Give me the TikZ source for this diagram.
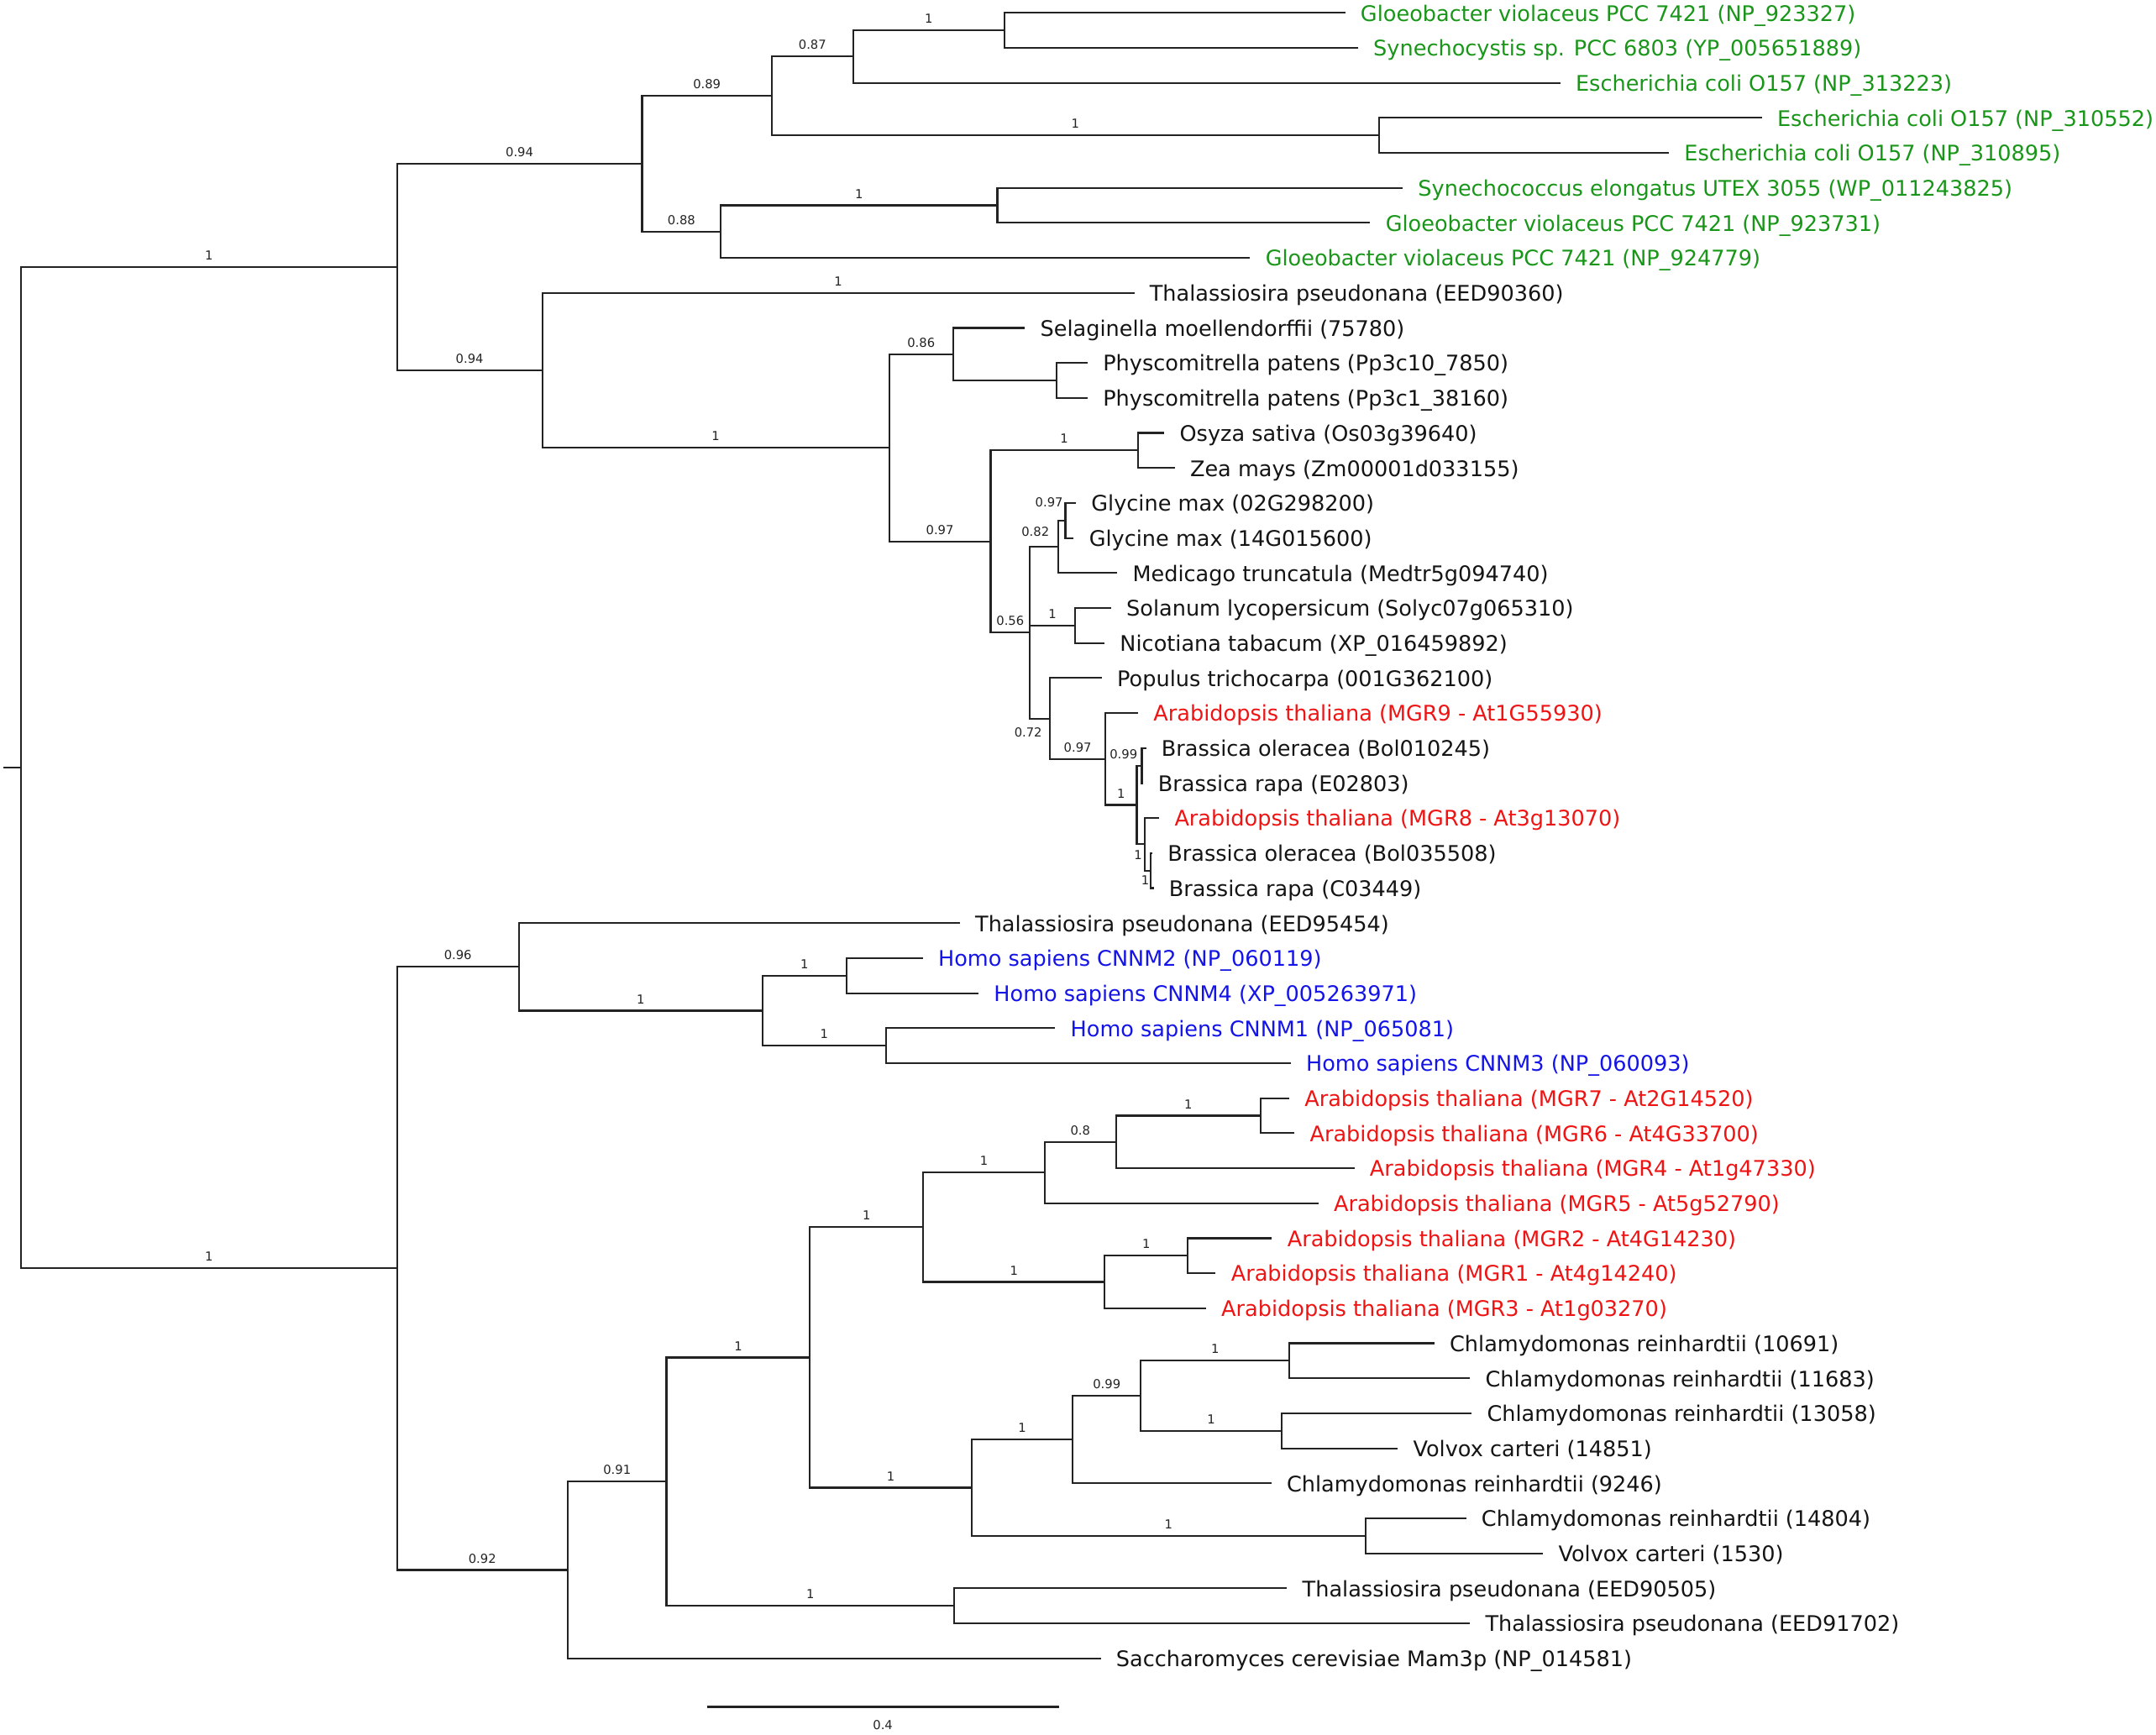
\documentclass[tikz,border=0pt]{standalone}
\usepackage{fontspec}
\setmainfont{DejaVu Sans}
\definecolor{colorbact}  {RGB}{25 ,150,25 }
\definecolor{colorath}   {RGB}{238,20 ,20 }
\definecolor{colorhuman} {RGB}{20 ,20 ,230}
\definecolor{colorbranch}{RGB}{35 ,35 ,35 }
\definecolor{colortext}  {RGB}{20 ,20 ,20 }

\begin{document}
\begin{tikzpicture}[
    x=1pt, y=-25.45pt,
    leaf/.style={anchor=west,inner xsep=11pt,inner ysep=0pt,text height=12pt,text depth=0pt,font={\fontsize{15.6}{15.6}\selectfont},text=colortext},
    bact/.style={leaf,text=colorbact},
    ath/.style={leaf,text=colorath},
    hsa/.style={leaf,text=colorhuman},
    branch/.style={draw=colorbranch,line width=1.3pt},
    supp/.style={font={\fontsize{9}{9}\selectfont},text=colorbranch,inner sep=0pt,text height=6.5pt,text depth=0pt},
    bs/.style={supp,pos=0.75,above=4.5pt},
]

    \useasboundingbox (0,0.6346) rectangle (1567,50.167);

    % leaves
    \node[bact] at (977.7,1) (gloeoA) {Gloeobacter violaceus PCC 7421 (NP\_923327)};
    \node[bact] at (987,2) (synechocystis) {Synechocystis sp. PCC 6803 (YP\_005651889)};
    \node[bact] at (1134,3) (ecoliA) {Escherichia coli O157 (NP\_313223)};
    \node[bact] at (1280.5,4) (ecoliB) {Escherichia coli O157 (NP\_310552)};
    \node[bact] at (1213,5) (ecoliC) {Escherichia coli O157 (NP\_310895)};
    \node[bact] at (1019.5,6) (synechococcus) {Synechococcus elongatus UTEX 3055 (WP\_011243825)};
    \node[bact] at (995.9,7) (gloeoB) {Gloeobacter violaceus PCC 7421 (NP\_923731)};
    \node[bact] at (908.6,8) (gloeoC) {Gloeobacter violaceus PCC 7421 (NP\_924779)};
    \node[leaf] at (824.4,9) (thalA) {Thalassiosira pseudonana (EED90360)};
    \node[leaf] at (744.9,10) (selag) {Selaginella moellendorffii (75780)};
    \node[leaf] at (790.5,11) (physA) {Physcomitrella patens (Pp3c10\_7850)};
    \node[leaf] at (790.5,12) (physB) {Physcomitrella patens (Pp3c1\_38160)};
    \node[leaf] at (846.2,13) (osyza) {Osyza sativa (Os03g39640)};
    \node[leaf] at (853.8,14) (zea) {Zea mays (Zm00001d033155)};
    \node[leaf] at (782,15) (glyA) {Glycine max (02G298200)};
    \node[leaf] at (780.4,16) (glyB) {Glycine max (14G015600)};
    \node[leaf] at (812,17) (medicago) {Medicago truncatula (Medtr5g094740)};
    \node[leaf] at (807.5,18) (solanum) {Solanum lycopersicum (Solyc07g065310)};
    \node[leaf] at (802.8,19) (nicotiana) {Nicotiana tabacum (XP\_016459892)};
    \node[leaf] at (800.8,20) (populus) {Populus trichocarpa (001G362100)};
    \node[ath] at (827.2,21) (athMGR9) {Arabidopsis thaliana (MGR9 - At1G55930)};
    \node[leaf] at (833,22) (braolA) {Brassica oleracea (Bol010245)};
    \node[leaf] at (830.5,23) (brarapA) {Brassica rapa (E02803)};
    \node[ath] at (842.5,24) (athMGR8) {Arabidopsis thaliana (MGR8 - At3g13070)};
    \node[leaf] at (837.5,25) (braolB) {Brassica oleracea (Bol035508)};
    \node[leaf] at (838.5,26) (brarapB) {Brassica rapa (C03449)};
    \node[leaf] at (697.6,27) (thalB) {Thalassiosira pseudonana (EED95454)};
    \node[hsa] at (670.7,28) (cnnm2) {Homo sapiens CNNM2 (NP\_060119)};
    \node[hsa] at (711.2,29) (cnnm4) {Homo sapiens CNNM4 (XP\_005263971)};
    \node[hsa] at (766.9,30) (cnnm1) {Homo sapiens CNNM1 (NP\_065081)};
    \node[hsa] at (938.1,31) (cnnm3) {Homo sapiens CNNM3 (NP\_060093)};
    \node[ath] at (937,32) (mgr7) {Arabidopsis thaliana (MGR7 - At2G14520)};
    \node[ath] at (940.8,33) (mgr6) {Arabidopsis thaliana (MGR6 - At4G33700)};
    \node[ath] at (984.4,34) (mgr4) {Arabidopsis thaliana (MGR4 - At1g47330)};
    \node[ath] at (958.2,35) (mgr5) {Arabidopsis thaliana (MGR5 - At5g52790)};
    \node[ath] at (924.5,36) (mgr2) {Arabidopsis thaliana (MGR2 - At4G14230)};
    \node[ath] at (883.6,37) (mgr1) {Arabidopsis thaliana (MGR1 - At4g14240)};
    \node[ath] at (876.5,38) (mgr3) {Arabidopsis thaliana (MGR3 - At1g03270)};
    \node[leaf] at (1042.5,39) (chlA) {Chlamydomonas reinhardtii (10691)};
    \node[leaf] at (1068.4,40) (chlB) {Chlamydomonas reinhardtii (11683)};
    \node[leaf] at (1069.6,41) (chlC) {Chlamydomonas reinhardtii (13058)};
    \node[leaf] at (1015.9,42) (volA) {Volvox carteri (14851)};
    \node[leaf] at (924,43) (chlD) {Chlamydomonas reinhardtii (9246)};
    \node[leaf] at (1065.6,44) (chlE) {Chlamydomonas reinhardtii (14804)};
    \node[leaf] at (1121.5,45) (volB) {Volvox carteri (1530)};
    \node[leaf] at (935.4,46) (thalC) {Thalassiosira pseudonana (EED90505)};
    \node[leaf] at (1068.4,47) (thalD) {Thalassiosira pseudonana (EED91702)};
    \node[leaf] at (800,48) (sacch) {Saccharomyces cerevisiae Mam3p (NP\_014581)};

    % inner nodes
    \coordinate (rootstub) at (2.4,22.563);
    \coordinate (root) at (15.2,22.563);
    \coordinate (bactplant) at (288.5,8.2627);
    \coordinate (bacteria) at (466.7,5.3125);
    \coordinate (bactA) at (560.9,3.375);
    \coordinate (bactB) at (620.1,2.25);
    \coordinate (gloesyn) at (730,1.5);
    \coordinate (ecoli) at (1002.3,4.5);
    \coordinate (bactC) at (523.9,7.25);
    \coordinate (synglo) at (724.9,6.5);
    \coordinate (plants) at (394.1,11.2129);
    \coordinate (land) at (646.2,13.4258);
    \coordinate (moss) at (692.8,10.75);
    \coordinate (physco) at (767.7,11.5);
    \coordinate (angio) at (720,16.1016);
    \coordinate (monocot) at (827,13.5);
    \coordinate (dicot) at (748.5,18.703);
    \coordinate (legume) at (769.2,16.25);
    \coordinate (glycine) at (774.3,15.5);
    \coordinate (solan) at (781.4,18.5);
    \coordinate (rosid) at (763.1,21.15625);
    \coordinate (brassic) at (803.4,22.3125);
    \coordinate (brassA) at (826.2,23.625);
    \coordinate (brassB) at (829.9,22.5);
    \coordinate (brassC) at (831.8,24.75);
    \coordinate (brassD) at (836.4,25.5);

    \coordinate (animals) at (288.5,36.8633);
    \coordinate (cnnmall) at (377.1,28.25);
    \coordinate (cnnm) at (554.3,29.5);
    \coordinate (cnnmA) at (615.1,28.5);
    \coordinate (cnnmB) at (643.9,30.5);
    \coordinate (algaeall) at (412.6,45.4766);
    \coordinate (greenall) at (484.4,42.953);
    \coordinate (mgrchlamy) at (588.7,39.40625);
    \coordinate (mgr) at (671,35.6875);
    \coordinate (mgrA) at (759.3,34.125);
    \coordinate (mgrB) at (811.1,33.25);
    \coordinate (mgrC) at (916.3,32.5);
    \coordinate (mgrD) at (802.9,37.25);
    \coordinate (mgrE) at (863.4,36.5);
    \coordinate (chlamy) at (706.2,43.125);
    \coordinate (chlamyA) at (779.6,41.75);
    \coordinate (chlamyB) at (829.2,40.5);
    \coordinate (chlamyC) at (937.1,39.5);
    \coordinate (chlamyD) at (931.4,41.5);
    \coordinate (chlamyE) at (992.5,44.5);
    \coordinate (thalass) at (693.5,46.5);

    % branches
    \draw[branch] (rootstub) -- (root);
    \draw[branch] (root) |- node[bs] (sbactplant) {1} (bactplant);
    \draw[branch] (root) |- node[bs] (sanimals) {1} (animals);

    \draw[branch] (bactplant) |- node[bs] (sbacteria) {0.94} (bacteria);
    \draw[branch] (bactplant) |- node[bs] (splants) {0.94} (plants);
    \draw[branch] (bacteria) |- node[bs] (sbactA) {0.89} (bactA);
    \draw[branch] (bacteria) |- node[bs] (sbactC) {0.88} (bactC);
    \draw[branch] (bactA) |- node[bs] (sbactB) {0.87} (bactB);
    \draw[branch] (bactA) |- node[bs] (secoli) {1} (ecoli);
    \draw[branch] (bactB) |- node[bs] (sgloesyn) {1} (gloesyn);
    \draw[branch] (bactB) |- (ecoliA.west);
    \draw[branch] (gloesyn) |- (gloeoA.west);
    \draw[branch] (gloesyn) |- (synechocystis.west);
    \draw[branch] (ecoli) |- (ecoliB.west);
    \draw[branch] (ecoli) |- (ecoliC.west);
    \draw[branch] (bactC) |- node[bs] (ssynglo) {1} (synglo);
    \draw[branch] (bactC) |- (gloeoC.west);
    \draw[branch] (synglo) |- (synechococcus.west);
    \draw[branch] (synglo) |- (gloeoB.west);

    \draw[branch] (plants) |- node[bs] (sthalA) {1} (thalA.west);
    \draw[branch] (plants) |- node[bs] (sland) {1} (land);
    \draw[branch] (land) |- node[bs] (smoss) {0.86} (moss);
    \draw[branch] (land) |- node[bs] (sangio) {0.97} (angio);
    \draw[branch] (moss) |- (selag.west);
    \draw[branch] (moss) |- (physco);
    \draw[branch] (physco) |- (physA.west);
    \draw[branch] (physco) |- (physB.west);
    \draw[branch] (angio) |- node[bs] (smonocot) {1} (monocot);
    \draw[branch] (angio) |- node[bs] (sdicot) {0.56} (dicot);
    \draw[branch] (monocot) |- (osyza.west);
    \draw[branch] (monocot) |- (zea.west);
    \draw[branch] (dicot) |- (legume);
    \draw[branch] (dicot) |- node[bs] (ssolan) {1} (solan);
    \draw[branch] (dicot) |- (rosid);
    \draw[branch] (legume) |- (glycine);
    \draw[branch] (legume) |- (medicago.west);
    \draw[branch] (glycine) |- (glyA.west);
    \draw[branch] (glycine) |- (glyB.west);
    \draw[branch] (solan) |- (solanum.west);
    \draw[branch] (solan) |- (nicotiana.west);
    \draw[branch] (rosid) |- (populus.west);
    \draw[branch] (rosid) |- node[bs] (sbrassic) {0.97} (brassic);
    \draw[branch] (brassic) |- (athMGR9.west);
    \draw[branch] (brassic) |- node[bs] (sbrassA) {1} (brassA);
    \draw[branch] (brassA) |- (brassB);
    \draw[branch] (brassA) |- (brassC);
    \draw[branch] (brassB) |- (braolA.west);
    \draw[branch] (brassB) |- (brarapA.west);
    \draw[branch] (brassC) |- (athMGR8.west);
    \draw[branch] (brassC) |- (brassD);
    \draw[branch] (brassD) |- (braolB.west);
    \draw[branch] (brassD) |- (brarapB.west);

    \node[supp] at (752.5,15.813) (slegume) {0.82};
    \node[supp] at (762.5,14.988) (sglycine) {0.97};
    \node[supp] at (747.3,21.546) (srosid) {0.72};
    \node[supp] at (816.6,22.183) (sbrassB) {0.99};
    \node[supp] at (827.2,25.063) (sbrassC) {1};
    \node[supp] at (832.3,25.782) (sbrassD) {1};

    \draw[branch] (animals) |- node[bs] (scnnmall) {0.96} (cnnmall);
    \draw[branch] (animals) |- node[bs] (salgaeall) {0.92} (algaeall);
    \draw[branch] (cnnmall) |- (thalB.west);
    \draw[branch] (cnnmall) |- node[bs] (scnnm) {1} (cnnm);
    \draw[branch] (cnnm) |- node[bs] (scnnmA) {1} (cnnmA);
    \draw[branch] (cnnm) |- node[bs] (scnnmB) {1} (cnnmB);
    \draw[branch] (cnnmA) |- (cnnm2.west);
    \draw[branch] (cnnmA) |- (cnnm4.west);
    \draw[branch] (cnnmB) |- (cnnm1.west);
    \draw[branch] (cnnmB) |- (cnnm3.west);

    \draw[branch] (algaeall) |- node[bs] (sgreenall) {0.91} (greenall);
    \draw[branch] (algaeall) |- (sacch.west);
    \draw[branch] (greenall) |- node[bs] (smgrchlamy) {1} (mgrchlamy);
    \draw[branch] (greenall) |- node[bs] (sthalass) {1} (thalass);
    \draw[branch] (thalass) |- (thalC.west);
    \draw[branch] (thalass) |- (thalD.west);
    \draw[branch] (mgrchlamy) |- node[bs] (smgr) {1} (mgr);
    \draw[branch] (mgrchlamy) |- node[bs] (schlamy) {1} (chlamy);
    \draw[branch] (mgr) |- node[bs] (smgrA) {1} (mgrA);
    \draw[branch] (mgr) |- node[bs] (smgrD) {1} (mgrD);
    \draw[branch] (mgrA) |- node[bs] (smgrB) {0.8} (mgrB);
    \draw[branch] (mgrA) |- (mgr5.west);
    \draw[branch] (mgrB) |- node[bs] (smgrC) {1} (mgrC);
    \draw[branch] (mgrB) |- (mgr4.west);
    \draw[branch] (mgrC) |- (mgr7.west);
    \draw[branch] (mgrC) |- (mgr6.west);
    \draw[branch] (mgrD) |- node[bs] (smgrE) {1} (mgrE);
    \draw[branch] (mgrD) |- (mgr3.west);
    \draw[branch] (mgrE) |- (mgr2.west);
    \draw[branch] (mgrE) |- (mgr1.west);
    \draw[branch] (chlamy) |- node[bs] (schlamyA) {1} (chlamyA);
    \draw[branch] (chlamy) |- node[bs] (schlamyE) {1} (chlamyE);
    \draw[branch] (chlamyA) |- node[bs] (schlamyB) {0.99} (chlamyB);
    \draw[branch] (chlamyA) |- (chlD.west);
    \draw[branch] (chlamyB) |- node[bs] (schlamyC) {1} (chlamyC);
    \draw[branch] (chlamyB) |- node[bs] (schlamyD) {1} (chlamyD);
    \draw[branch] (chlamyC) |- (chlA.west);
    \draw[branch] (chlamyC) |- (chlB.west);
    \draw[branch] (chlamyD) |- (chlC.west);
    \draw[branch] (chlamyD) |- (volA.west);
    \draw[branch] (chlamyE) |- (chlE.west);
    \draw[branch] (chlamyE) |- (volB.west);

    % scale bar
    \coordinate (scaleL) at (513.8,49.385);
    \coordinate (scaleR) at (769.5,49.385);
    \draw[branch] (scaleL) -- node[supp,below=9.5pt] (scalelab) {0.4} (scaleR);

\end{tikzpicture}
\end{document}
